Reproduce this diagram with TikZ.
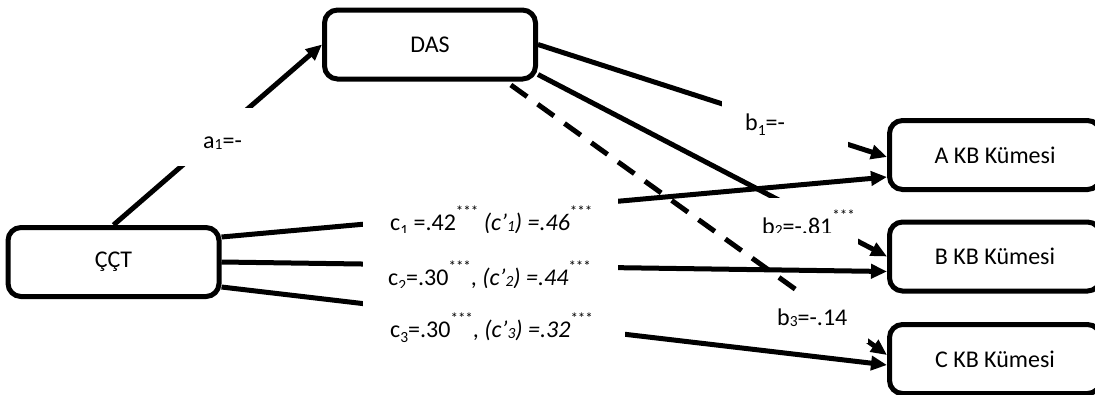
\documentclass[tikz,border=0pt]{standalone}
\usepackage{fontspec}
\setmainfont{Carlito}
\usetikzlibrary{arrows.meta,calc}
\newcommand\usub[1]{\raisebox{-0.08em}{\fontsize{15.5}{15.5}\selectfont #1}}
\newcommand\dsub[1]{\raisebox{-0.24em}{\fontsize{15.5}{15.5}\selectfont #1}}
\newcommand\stars{\raisebox{0.55em}{\fontsize{15}{15}\selectfont ***}}
\begin{document}
\begin{tikzpicture}[x=1pt,y=-1pt,
  box/.style={draw,line width=5pt,rounded corners=13pt,minimum width=211pt,minimum height=69pt,inner sep=0pt,font=\fontsize{24}{28}\selectfont},
  conn/.style={line width=5pt,-{Triangle[length=16pt,width=14pt]}},
  dashconn/.style={conn,dash pattern=on 20pt off 13pt,dash phase=27pt},
  cover/.style={fill=white,draw=none},
  lbl/.style={anchor=base west,inner sep=0pt,font=\fontsize{24}{28}\selectfont}]
\useasboundingbox (0,0) rectangle (1095,394);
\clip (0,0) rectangle (1095,394);

% nodes
\node[box] (DAS) at (430,44.5) {DAS};
\node[box] (CCT) at (113.5,262) {ÇÇT};
\node[box] (A) at (995,155) {A KB Kümesi};
\node[box] (B) at (995,256.5) {B KB Kümesi};
\node[box] (C) at (995,359) {C KB Kümesi};

% connectors
\draw[conn] (CCT.north) -- (DAS.west);
\draw[conn] (DAS.east) -- ([yshift=-2pt]A.west);
\draw[conn] ([yshift=-30pt]DAS.east) -- (B.west);
\draw[dashconn] ([xshift=-32pt]DAS.south east) -- ([yshift=4pt]C.west);
\draw[conn] ([yshift=25pt]CCT.east) -- ([yshift=-22pt]A.west);
\draw[conn] (CCT.east) -- ([yshift=-15pt]B.west);
\draw[conn] ([yshift=-25pt]CCT.east) -- ([yshift=-6pt]C.west);

% labels
\fill[cover] (170,108) rectangle (262,166);
\node[lbl] (la1) at (203,148) {a\usub{1}=-};

\fill[cover] (722,95) rectangle (848,150);
\node[lbl] (lb1) at (745,130) {b\dsub{1}=-};

\begin{scope}
\clip (363,190) rectangle (618,232);
\fill[cover] (363,190) rectangle (618,232);
\node[lbl] (lc1) at (390,230) {c\dsub{1} =.42\stars{} \textit{(c’\usub{1}) =.46}\stars};
\end{scope}

\begin{scope}
\fill[cover] (363,240) rectangle (618,287);
\clip (363,240) rectangle (618,287);
\node[lbl] (lc2) at (388,285) {c\dsub{2}=.30\stars, \textit{(c’\usub{2}) =.44}\stars};
\end{scope}

\fill[cover] (363,292) rectangle (625,350);
\node[lbl] (lc3) at (390,337) {c\dsub{3}=.30\stars, \textit{(c’\usub{3}) =.32}\stars};

\begin{scope}
\fill[cover] (760,198) rectangle (858,246);
\clip (760,198) rectangle (858,232);
\node[lbl] (lb2) at (762,234) {b\usub{2}=-.81\stars};
\end{scope}

\fill[cover] (775,292) rectangle (868,343);
\node[lbl] (lb3) at (777,325) {b\usub{3}=-.14};
\end{tikzpicture}
\end{document}
